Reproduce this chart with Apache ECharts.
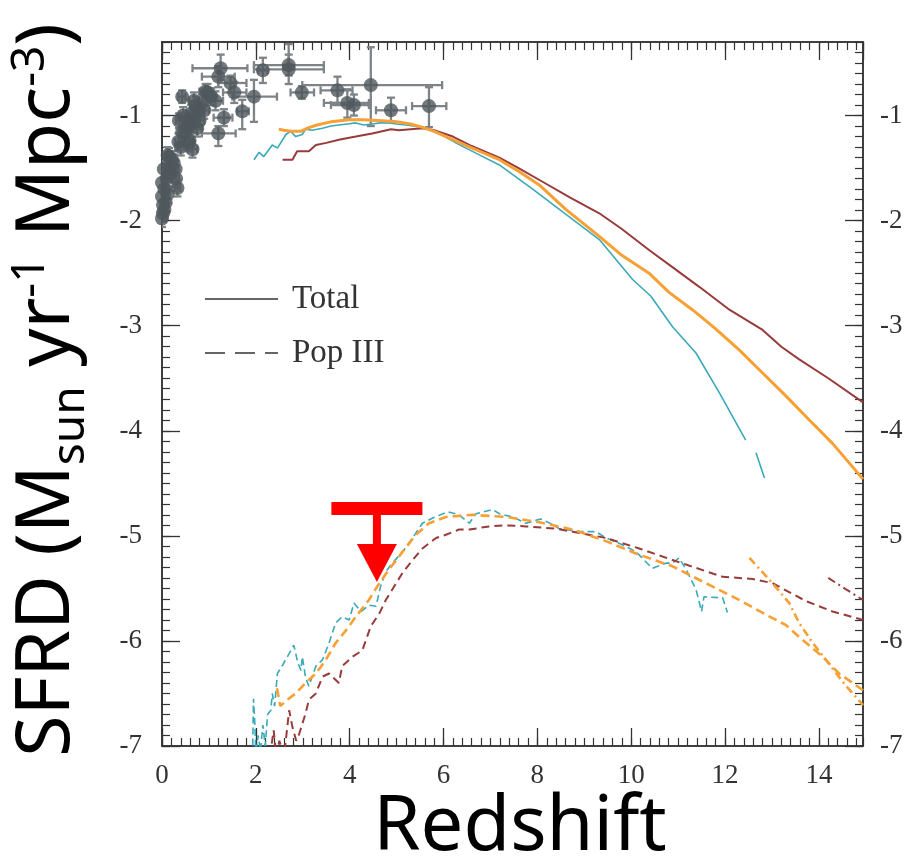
<!DOCTYPE html>
<html><head><meta charset="utf-8">
<script src="https://cdn.jsdelivr.net/npm/echarts@6/dist/echarts.min.js"></script>
<style>html,body{margin:0;padding:0;background:#fff}#c{width:917px;height:868px}</style>
</head><body><div id="c"></div>
<script>
// ---------- data ----------
const xRange = [0, 14.94];
const yRange = [-7, -0.3];
const legendLabels = ['Total', 'Pop III'];

// observed points: [x, y, xlo, xhi, ylo, yhi]
const obsPoints = [
  [1.25,-0.55,0.65,1.82,-0.66,-0.42],[1.20,-0.63,0.85,1.55,-0.73,-0.53],
  [2.15,-0.57,2.05,2.25,-0.69,-0.45],[2.70,-0.52,1.96,3.45,-0.62,-0.32],
  [2.70,-0.56,1.96,3.45,-0.70,-0.42],[1.96,-0.82,1.50,2.45,-1.06,-0.66],
  [2.98,-0.78,2.74,3.24,-0.84,-0.72],[3.74,-0.76,3.38,4.06,-0.88,-0.63],
  [3.95,-0.88,3.45,4.41,-1.02,-0.75],[4.09,-0.90,3.60,4.41,-1.00,-0.80],
  [4.45,-0.71,2.99,5.97,-1.10,-0.35],[4.88,-0.95,4.56,5.20,-1.06,-0.83],
  [5.69,-0.91,5.33,6.06,-1.11,-0.73],[1.46,-0.69,1.20,1.80,-0.78,-0.62],
  [1.54,-0.78,1.30,1.80,-0.88,-0.68],[1.71,-0.96,1.60,1.85,-1.13,-0.85],
  [1.32,-1.02,1.10,1.50,-1.10,-0.94],[1.20,-1.17,0.85,1.57,-1.29,-1.10],
  [0.97,-0.78,0.80,1.10,-0.86,-0.70],[1.14,-0.86,1.00,1.30,-0.95,-0.77],
  [0.43,-0.82,0.35,0.50,-0.88,-0.76],[0.93,-0.77,0.80,1.05,-0.85,-0.70],
  [0.72,-0.91,0.60,0.85,-1.00,-0.82],[0.78,-0.96,0.65,0.90,-1.04,-0.88],
  [0.70,-1.02,0.60,0.80,-1.10,-0.94],[0.65,-1.08,0.55,0.75,-1.16,-1.00],
  [0.75,-1.12,0.65,0.85,-1.20,-1.04],[0.58,-1.04,0.50,0.66,-1.12,-0.96],
  [0.36,-1.05,0.30,0.42,-1.12,-0.98],[0.58,-1.23,0.50,0.66,-1.31,-1.15],
  [0.65,-1.32,0.55,0.75,-1.40,-1.24],[0.50,-1.15,0.42,0.58,-1.23,-1.07],
  [0.43,-1.16,0.36,0.50,-1.24,-1.08],[0.58,-1.26,0.50,0.66,-1.34,-1.18],
  [0.21,-1.42,0.15,0.27,-1.50,-1.34],[0.15,-1.39,0.10,0.20,-1.47,-1.31],
  [0.15,-1.50,0.10,0.20,-1.58,-1.42],[0.29,-1.51,0.23,0.35,-1.59,-1.43],
  [0.33,-1.69,0.27,0.39,-1.77,-1.61],[0.04,-1.51,0.00,0.08,-1.59,-1.43],
  [0.00,-1.64,0.00,0.05,-1.72,-1.56],[0.00,-1.77,0.00,0.05,-1.85,-1.69],
  [0.02,-1.93,0.00,0.06,-2.01,-1.85],[0.08,-1.83,0.03,0.13,-1.91,-1.75],
  [0.10,-1.60,0.05,0.15,-1.68,-1.52],[0.25,-1.45,0.19,0.31,-1.53,-1.37],
  [0.05,-1.70,0.00,0.10,-1.78,-1.62],[0.12,-1.75,0.07,0.17,-1.83,-1.67],
  [0.02,-1.85,0.00,0.06,-1.93,-1.77],[0.85,-0.88,0.75,0.95,-0.96,-0.80],
  [0.90,-0.95,0.80,1.00,-1.03,-0.87],[0.62,-0.98,0.52,0.72,-1.06,-0.90],
  [0.55,-1.10,0.47,0.63,-1.18,-1.02],[0.80,-1.05,0.70,0.90,-1.13,-0.97],
  [1.05,-0.82,0.95,1.15,-0.90,-0.74],[0.68,-0.86,0.58,0.78,-0.94,-0.78],
  [0.30,-1.60,0.24,0.36,-1.68,-1.52],[0.18,-1.55,0.12,0.24,-1.63,-1.47],
  [0.40,-1.30,0.33,0.47,-1.38,-1.22],[0.00,-1.98,0.00,0.05,-2.06,-1.90],
  [0.05,-1.90,0.00,0.10,-1.98,-1.82],[0.12,-1.38,0.07,0.17,-1.46,-1.30],
  [0.45,-1.00,0.38,0.52,-1.08,-0.92],[0.35,-1.25,0.28,0.42,-1.33,-1.17]
];

const orangeTotal = [[2.49,-1.13],[2.6,-1.14],[2.75,-1.15],[2.96,-1.15],[3.1,-1.12],[3.3,-1.09],[3.6,-1.06],[3.99,-1.04],[4.3,-1.04],[4.69,-1.05],[5.0,-1.06],[5.3,-1.08],[5.54,-1.11],[5.8,-1.15],[6.1,-1.21],[6.61,-1.31],[7.19,-1.42],[7.6,-1.53],[8.04,-1.66],[8.6,-1.89],[9.32,-2.15],[9.8,-2.33],[10.38,-2.50],[10.8,-2.68],[11.31,-2.85],[11.8,-3.03],[12.30,-3.23],[12.8,-3.45],[13.30,-3.67],[13.8,-3.90],[14.29,-4.12],[14.94,-4.46]];
const redTotal = [[2.57,-1.42],[2.78,-1.42],[2.88,-1.34],[3.13,-1.34],[3.28,-1.28],[3.5,-1.26],[3.77,-1.23],[4.13,-1.20],[4.48,-1.17],[4.88,-1.13],[5.05,-1.14],[5.3,-1.13],[5.55,-1.12],[5.8,-1.14],[6.2,-1.2],[6.6,-1.29],[7.19,-1.40],[7.6,-1.5],[8.11,-1.63],[8.7,-1.78],[9.32,-1.93],[9.8,-2.08],[10.38,-2.28],[10.9,-2.45],[11.45,-2.63],[12.1,-2.85],[12.80,-3.04],[13.2,-3.2],[13.58,-3.32],[14.2,-3.5],[14.94,-3.73]];
const tealTotal = [[1.96,-1.42],[2.07,-1.35],[2.17,-1.39],[2.35,-1.28],[2.46,-1.31],[2.64,-1.18],[2.74,-1.15],[2.85,-1.20],[2.99,-1.18],[3.06,-1.13],[3.2,-1.14],[3.42,-1.12],[3.6,-1.1],[3.77,-1.09],[3.95,-1.08],[4.13,-1.07],[4.3,-1.09],[4.48,-1.08],[4.65,-1.07],[4.84,-1.07],[5.0,-1.08],[5.2,-1.09],[5.55,-1.11],[5.9,-1.17],[6.26,-1.26],[6.7,-1.36],[7.19,-1.47],[7.9,-1.70],[8.61,-1.94],[9.32,-2.18],[10.03,-2.56],[10.42,-2.72],[10.88,-3.01],[11.38,-3.26],[11.88,-3.64],[12.44,-4.09],[12.55,'-'],[12.66,-4.21],[12.84,-4.45]];

const orangePop3 = [[2.45,-6.45],[2.52,-6.62],[2.67,-6.56],[2.85,-6.50],[3.06,-6.40],[3.28,-6.31],[3.49,-6.18],[3.70,-6.02],[3.92,-5.90],[4.13,-5.77],[4.41,-5.61],[4.59,-5.48],[4.84,-5.32],[5.13,-5.15],[5.41,-4.99],[5.69,-4.88],[6.05,-4.82],[6.62,-4.80],[7.33,-4.82],[8.04,-4.87],[8.75,-4.94],[9.46,-5.05],[10.17,-5.18],[10.88,-5.29],[11.59,-5.45],[12.30,-5.61],[12.87,-5.75],[13.3,-5.85],[13.65,-5.99],[14.08,-6.15],[14.43,-6.31],[14.72,-6.40],[14.94,-6.47]];
const orangePop3b = [[12.52,-5.21],[13.01,-5.45],[13.37,-5.64],[13.58,-5.83],[13.87,-6.02],[14.15,-6.18],[14.58,-6.43],[14.94,-6.61]];
const tealPop3 = [[1.93,-7.1],[1.95,-6.55],[1.98,-6.8],[2.0,-7.1],[2.05,-6.9],[2.1,-7.05],[2.15,-6.8],[2.2,-7.0],[2.25,-6.7],[2.32,-6.66],[2.35,-6.5],[2.4,-6.62],[2.46,-6.31],[2.57,-6.23],[2.71,-6.12],[2.81,-6.04],[2.89,-6.20],[2.96,-6.28],[2.99,-6.15],[3.06,-6.35],[3.13,-6.43],[3.28,-6.24],[3.42,-6.18],[3.56,-6.02],[3.70,-5.83],[3.84,-5.77],[3.99,-5.80],[4.09,-5.64],[4.24,-5.72],[4.41,-5.66],[4.56,-5.67],[4.66,-5.48],[4.77,-5.34],[4.91,-5.26],[5.13,-5.15],[5.34,-5.02],[5.55,-4.88],[5.77,-4.83],[6.09,-4.77],[6.33,-4.80],[6.55,-4.88],[6.69,-4.79],[7.05,-4.75],[7.19,-4.79],[7.47,-4.82],[7.76,-4.88],[8.07,-4.84],[8.32,-4.89],[8.46,-4.93],[8.89,-4.96],[9.25,-4.96],[9.46,-5.02],[9.74,-5.07],[10.10,-5.15],[10.45,-5.31],[10.74,-5.26],[10.88,-5.26],[11.02,-5.21],[11.17,-5.32],[11.38,-5.51],[11.5,-5.72],[11.55,-5.58],[11.95,-5.59],[12.05,-5.73]];
const redPop3 = [[2.3,-7.1],[2.38,-6.85],[2.44,-7.1],[2.5,-6.95],[2.6,-7.1],[2.71,-6.66],[2.78,-6.82],[2.86,-6.95],[2.92,-6.89],[3.06,-6.69],[3.13,-6.56],[3.28,-6.50],[3.42,-6.34],[3.56,-6.31],[3.77,-6.40],[3.84,-6.24],[4.06,-6.15],[4.27,-6.09],[4.45,-5.86],[4.63,-5.74],[4.77,-5.61],[4.95,-5.48],[5.13,-5.35],[5.34,-5.23],[5.55,-5.12],[5.84,-5.02],[6.05,-4.99],[6.33,-4.94],[6.55,-4.94],[6.97,-4.91],[7.33,-4.90],[7.76,-4.91],[8.36,-4.93],[8.75,-4.96],[9.46,-5.02],[10.17,-5.12],[10.88,-5.23],[11.95,-5.39],[12.59,-5.41],[13.01,-5.45],[13.72,-5.62],[14.29,-5.72],[14.94,-5.80]];
const redPop3b = [[14.2,-5.40],[14.58,-5.51],[14.94,-5.61]];

// annotation (upper-limit arrow) in data coordinates
const arrowBar = [3.61, 5.55, -4.74];   // x0, x1, y
const arrowStem = [4.58, -4.74, -5.44]; // x, yTop, yTip

// ---------- chart ----------
const COL_TEAL = '#3aa9b8', COL_OR = '#f7a035', COL_RED = '#983b3b';
const FRAME = '#333';
const tickFont = 'Liberation Serif';
const GRID = {left:162, right:54, top:42, bottom:122, containLabel:false};

const chart = echarts.init(document.getElementById('c'));

function majorX(pos, labels) {
  return {type:'value', gridIndex:0, position:pos, min:xRange[0], max:xRange[1], interval:2,
    axisLine:{show:true, onZero:false, lineStyle:{color:FRAME, width:1.5}},
    axisTick:{show:true, inside:true, length:18, lineStyle:{color:FRAME, width:1.3}},
    splitLine:{show:false},
    axisLabel:{show:labels, showMaxLabel:false, margin:16, color:'#333', fontFamily:tickFont, fontSize:27}};
}
function minorX(pos) {
  return {type:'value', gridIndex:1, position:pos, min:xRange[0], max:xRange[1], interval:0.2,
    axisLine:{show:true, onZero:false, lineStyle:{color:FRAME, width:1.5}},
    axisTick:{show:true, inside:true, length:8, lineStyle:{color:FRAME, width:1.2}},
    axisLabel:{show:false}, splitLine:{show:false}};
}
function majorY(pos) {
  return {type:'value', gridIndex:0, position:pos, min:yRange[0], max:yRange[1], interval:1,
    axisLine:{show:true, onZero:false, lineStyle:{color:FRAME, width:1.5}},
    axisTick:{show:true, inside:true, length:18, lineStyle:{color:FRAME, width:1.3}},
    splitLine:{show:false},
    axisLabel:{show:true, showMaxLabel:false, margin:pos==='left'?20:17, color:'#333', fontFamily:tickFont, fontSize:27}};
}
function minorY(pos) {
  return {type:'value', gridIndex:1, position:pos, min:yRange[0], max:yRange[1], interval:0.1,
    axisLine:{show:true, onZero:false, lineStyle:{color:FRAME, width:1.5}},
    axisTick:{show:true, inside:true, length:8, lineStyle:{color:FRAME, width:1.2}},
    axisLabel:{show:false}, splitLine:{show:false}};
}

function lineSeries(data, color, width, dash) {
  return {type:'line', data, xAxisIndex:0, yAxisIndex:0, showSymbol:false, symbol:'none',
    clip:true, connectNulls:false, z:3,
    lineStyle:{color, width, type: dash || 'solid'}};
}

const option = {
  animation:false,
  backgroundColor:'#fff',
  grid:[Object.assign({}, GRID), Object.assign({}, GRID)],
  xAxis:[majorX('bottom', true), majorX('top', false), minorX('bottom'), minorX('top')],
  yAxis:[majorY('left'), majorY('right'), minorY('left'), minorY('right')],
  series:[
    {type:'custom', xAxisIndex:0, yAxisIndex:0, data:obsPoints, clip:true, z:2,
      encode:{x:0, y:1},
      renderItem(params, api){
        const x=api.value(0), y=api.value(1);
        const l=api.coord([api.value(2),y]), r=api.coord([api.value(3),y]);
        const b=api.coord([x,api.value(4)]), t=api.coord([x,api.value(5)]);
        const cap=4, st={stroke:'#7d8386', lineWidth:2.3};
        return {type:'group', children:[
          {type:'line', shape:{x1:l[0],y1:l[1],x2:r[0],y2:r[1]}, style:st},
          {type:'line', shape:{x1:l[0],y1:l[1]-cap,x2:l[0],y2:l[1]+cap}, style:st},
          {type:'line', shape:{x1:r[0],y1:r[1]-cap,x2:r[0],y2:r[1]+cap}, style:st},
          {type:'line', shape:{x1:b[0],y1:b[1],x2:t[0],y2:t[1]}, style:st},
          {type:'line', shape:{x1:b[0]-cap,y1:b[1],x2:b[0]+cap,y2:b[1]}, style:st},
          {type:'line', shape:{x1:t[0]-cap,y1:t[1],x2:t[0]+cap,y2:t[1]}, style:st}
        ]};
      }},
    {type:'scatter', xAxisIndex:0, yAxisIndex:0, data:obsPoints.map(p=>[p[0],p[1]]),
      symbolSize:14, itemStyle:{color:'#4f575c'}, z:4, clip:true},
    lineSeries(tealTotal, COL_TEAL, 1.6),
    lineSeries(redTotal, COL_RED, 2),
    lineSeries(orangeTotal, COL_OR, 3),
    lineSeries(tealPop3, COL_TEAL, 1.6, [7,4]),
    lineSeries(redPop3, COL_RED, 2, [8,5]),
    lineSeries(redPop3b, COL_RED, 2, [8,4,2,4]),
    lineSeries(orangePop3, COL_OR, 2.6, [9,5]),
    lineSeries(orangePop3b, COL_OR, 2.6, [8,4,2,4])
  ]
};
chart.setOption(option);

// annotations, legend, titles
const p = (x,y)=>chart.convertToPixel({gridIndex:0},[x,y]);
const bl = p(arrowBar[0], arrowBar[2]), br = p(arrowBar[1], arrowBar[2]);
const st = p(arrowStem[0], arrowStem[1]), tip = p(arrowStem[0], arrowStem[2]);
const headH = 38, headW = 40, barH = 13, stemW = 8;
const RED = '#ff0000';

chart.setOption({graphic:[
  {type:'rect', shape:{x:bl[0], y:bl[1]-barH/2, width:br[0]-bl[0], height:barH}, style:{fill:RED}, z:20},
  {type:'rect', shape:{x:st[0]-stemW/2, y:st[1], width:stemW, height:(tip[1]-headH)-st[1]+2}, style:{fill:RED}, z:20},
  {type:'polygon', shape:{points:[[tip[0]-headW/2, tip[1]-headH],[tip[0]+headW/2, tip[1]-headH],[tip[0], tip[1]]]}, style:{fill:RED}, z:20},
  // legend
  {type:'line', shape:{x1:205,y1:299,x2:278,y2:299}, style:{stroke:'#333', lineWidth:1.5}, z:20},
  {type:'line', shape:{x1:205,y1:353,x2:278,y2:353}, style:{stroke:'#333', lineWidth:1.5, lineDash:[20,10]}, z:20},
  {type:'text', x:292, y:299, style:{text:legendLabels[0], font:'33px "Liberation Serif"', fill:'#333', verticalAlign:'middle', align:'left'}, z:20},
  {type:'text', x:292, y:353, style:{text:legendLabels[1], font:'33px "Liberation Serif"', fill:'#333', verticalAlign:'middle', align:'left'}, z:20},
  // axis titles
  {type:'text', x:520, y:828, style:{text:'Redshift', font:'76px "Noto Sans"', fill:'#000', align:'center', verticalAlign:'middle'}, z:20},
  {type:'text', x:48, y:390, rotation:Math.PI/2, style:{
    text:'{a|SFRD (M}{b|sun}{a| yr}{c|-1}{a| Mpc}{c|-3}{a|)}',
    align:'center', verticalAlign:'middle',
    rich:{
      a:{fontFamily:'Noto Sans', fontSize:75, lineHeight:100, fill:'#000', color:'#000', verticalAlign:'middle'},
      b:{fontFamily:'Noto Sans', fontSize:46, lineHeight:100, fill:'#000', color:'#000', verticalAlign:'bottom', padding:[0,0,4,0]},
      c:{fontFamily:'Noto Sans', fontSize:46, lineHeight:100, fill:'#000', color:'#000', verticalAlign:'top', padding:[10,0,0,0]}
    }}, z:20}
]});
</script>
</body></html>
